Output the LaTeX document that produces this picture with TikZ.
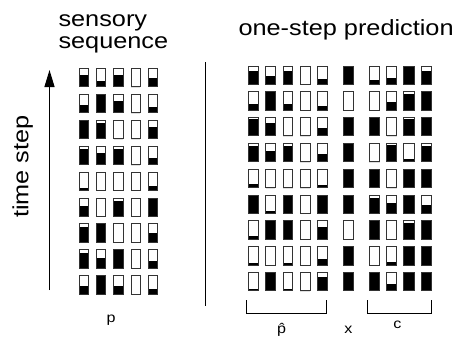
\documentclass[tikz,border=0pt]{standalone}
\usepackage{fontspec}
\setmainfont{Liberation Sans}[FakeStretch=1.15]
\usetikzlibrary{arrows.meta}
\tikzset{
  cellbd/.style={draw=black!80, line width=1pt},
  ttl/.style={font=\fontsize{22}{22}\selectfont, inner sep=0pt, anchor=base west},
  lbl/.style={font=\fontsize{14}{14}\selectfont, inner sep=0pt, anchor=base},
  rulel/.style={line width=1.3pt},
  brk/.style={line width=1pt},
}
% #1 xleft, #2 xpitch, #3 ytop, #4 ypitch, #5 width, #6 height, #7 rows
\newcommand\mycellgrid[7]{%
  \foreach \row [count=\i from 0] in {#7} {
    \foreach \f [count=\j from 0] in \row {
      \pgfmathsetmacro\cx{#1+\j*#2}
      \pgfmathsetmacro\cy{#3+\i*#4}
      \fill[black] (\cx,{\cy+#6*(1-\f)}) rectangle ({\cx+#5},{\cy+#6});
      \draw[cellbd] (\cx,\cy) rectangle ++(#5,#6);
    }
  }%
}
\begin{document}
\begin{tikzpicture}[x=1pt,y=-1pt]
\useasboundingbox (0,0) rectangle (462,346);
% titles
\node[ttl] (t1) at (58.3,26.7) {sensory};
\node[ttl] (t2) at (58.3,48.3) {sequence};
\node[ttl] (t3) at (238.3,35.7) {one-step prediction};
\node[ttl, anchor=base, rotate=90] (ts) at (28.3,166.5) {time step};
% arrow and separator
\coordinate (arrS) at (49.5,290);
\coordinate (arrE) at (49.5,70);
\draw[rulel, -{Triangle[width=10pt,length=17pt]}] (arrS) -- (arrE);
\coordinate (sepT) at (205.5,62);
\coordinate (sepB) at (205.5,306);
\draw[rulel] (sepT) -- (sepB);
% grids
\mycellgrid{79.5}{17.2}{68.3}{25.94}{9.2}{18.4}{%
 {.65,.3,.65,0,.45},{.4,1,.65,0,.3},{1,.85,0,0,.65},{.85,.6,.85,0,.35},%
 {.15,0,0,0,.25},{.55,0,.85,0,1},{.85,1,0,0,.5},{.85,.55,1,0,.4},{.45,1,.45,0,.3}}
\mycellgrid{248.3}{17.35}{66}{25.83}{9.8}{18.3}{%
 {.75,.45,.75,0,.3},{.35,1,.35,0,.25},{.9,.7,0,0,.45},{.85,.6,.85,0,.4},%
 {.2,0,0,0,.15},{1,.12,1,0,1},{.17,1,1,0,.65},{.12,0,.12,0,.33},{.12,1,.12,0,.77}}
\mycellgrid{343.6}{0}{66}{25.83}{10.2}{18.3}{%
 {1},{0},{1},{1},{1},{1},{0},{1},{1}}
\mycellgrid{369.3}{17.33}{66}{25.83}{10.2}{18.3}{%
 {.24,.33,1,.73},{0,.45,.9,1},{1,0,.9,1},{0,.9,.15,.85},{1,0,1,1},%
 {.85,.58,1,.44},{1,0,.9,1},{0,.18,1,1},{1,.4,1,1}}
% brackets
\coordinate (b1a) at (246.5,300);
\coordinate (b1b) at (246.5,313);
\coordinate (b1c) at (326,313);
\coordinate (b1d) at (326,300);
\draw[brk] (b1a) -- (b1b) -- (b1c) -- (b1d);
\coordinate (b2a) at (367.7,300);
\coordinate (b2b) at (367.7,313);
\coordinate (b2c) at (431,313);
\coordinate (b2d) at (431,300);
\draw[brk] (b2a) -- (b2b) -- (b2c) -- (b2d);
% labels
\node[lbl] (lp) at (111,322) {p};
\node[lbl] (lph) at (281.7,333) {\^{p}};
\node[lbl] (lx) at (348.3,333.3) {x};
\node[lbl] (lc) at (397.3,328.5) {c};
\end{tikzpicture}
\end{document}
